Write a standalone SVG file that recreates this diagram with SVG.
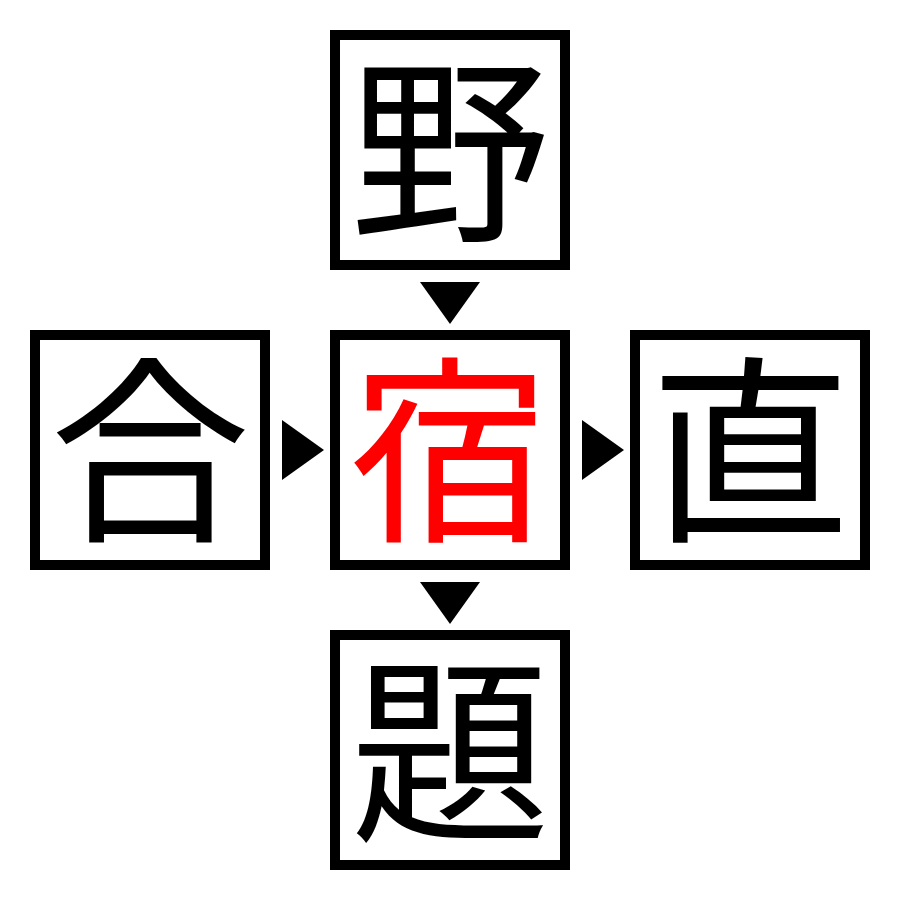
<svg xmlns="http://www.w3.org/2000/svg" width="900" height="900" viewBox="0 0 900 900">
<style>
.box{fill:#fff;stroke:#000;stroke-width:10}
.ch{font-family:"Liberation Serif","Noto Sans CJK JP",serif;font-size:200px;text-anchor:middle;fill:#000}
.red{fill:#f00}
.arr{fill:#000}
</style>
<rect width="900" height="900" fill="#fff"/>
<g id="node-top"><rect class="box" x="335" y="35" width="230" height="230"/><text class="ch" x="450" y="226">野</text></g>
<g id="node-left"><rect class="box" x="35" y="335" width="230" height="230"/><text class="ch" x="150" y="526">合</text></g>
<g id="node-center"><rect class="box" x="335" y="335" width="230" height="230"/><text class="ch red" x="450" y="526">宿</text></g>
<g id="node-right"><rect class="box" x="635" y="335" width="230" height="230"/><text class="ch" x="750" y="526">直</text></g>
<g id="node-bottom"><rect class="box" x="335" y="635" width="230" height="230"/><text class="ch" x="450" y="826">題</text></g>
<g id="connectors">
<polygon class="arr" points="420,282 480,282 450,324"/>
<polygon class="arr" points="282,420 282,480 324,450"/>
<polygon class="arr" points="582,420 582,480 624,450"/>
<polygon class="arr" points="420,582 480,582 450,624"/>
</g>
</svg>
